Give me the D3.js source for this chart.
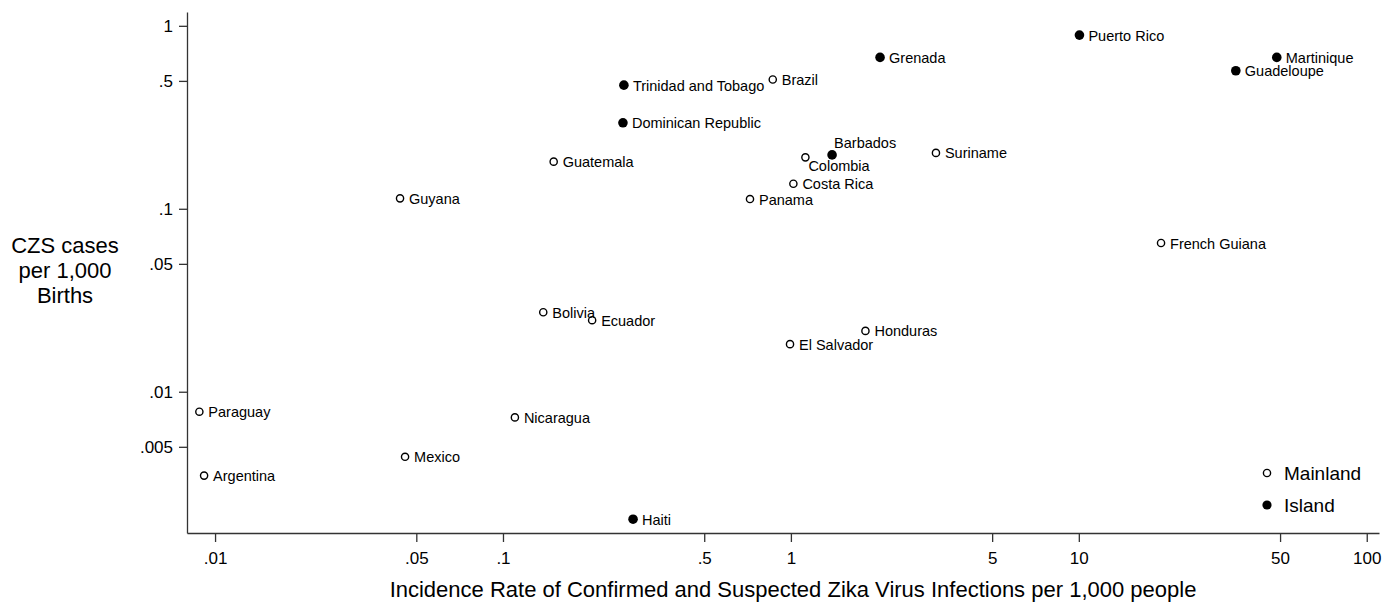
<!DOCTYPE html>
<html>
<head>
<meta charset="utf-8">
<script src="https://cdn.jsdelivr.net/npm/d3@7"></script>
<style>
  body { margin: 0; background: #fff; }
  svg text { font-family: Arial, "Liberation Sans", sans-serif; fill: #000; }
  .axis path, .axis line { stroke: #333; stroke-width: 1.3; }
  .axis text { font-size: 17px; }
  .lbl { font-size: 14.5px; }
</style>
</head>
<body>
<div id="chart"></div>
<script>
// Data
var countries = ["Puerto Rico", "Martinique", "Guadeloupe", "Grenada", "Brazil", "Trinidad and Tobago",
  "Dominican Republic", "Guatemala", "Barbados", "Colombia", "Costa Rica", "Panama", "Guyana",
  "Suriname", "French Guiana", "Bolivia", "Ecuador", "Honduras", "El Salvador", "Nicaragua",
  "Haiti", "Paraguay", "Argentina", "Mexico"];
var incidence = [10.05, 48.7, 35.1, 2.04, 0.865, 0.263, 0.261, 0.150, 1.39, 1.123, 1.02, 0.721, 0.0439,
  3.19, 19.3, 0.138, 0.204, 1.815, 0.993, 0.110, 0.283, 0.00882, 0.00916, 0.0457];
var czsRate = [0.89, 0.672, 0.568, 0.672, 0.509, 0.474, 0.295, 0.181, 0.197, 0.191, 0.137, 0.113, 0.114,
  0.202, 0.065, 0.0272, 0.0246, 0.0215, 0.0182, 0.00724, 0.00201, 0.00778, 0.00348, 0.00441];
var island = [1, 1, 1, 1, 0, 1, 1, 0, 1, 0, 0, 0, 0, 0, 0, 0, 0, 0, 0, 0, 1, 0, 0, 0];

var xTicks = [0.01, 0.05, 0.1, 0.5, 1, 5, 10, 50, 100];
var xTickLabels = [".01", ".05", ".1", ".5", "1", "5", "10", "50", "100"];
var yTicks = [1, 0.5, 0.1, 0.05, 0.01, 0.005];
var yTickLabels = ["1", ".5", ".1", ".05", ".01", ".005"];

var legendKeys = ["Mainland", "Island"];

// label placement (clock position style, as in the original)
var labelPlace = { "Barbados": "above", "Colombia": "below" };

var viewboxwidth = 1382, viewboxheight = 602;
var margin = {top: 12, bottom: 69, left: 187, right: 3};

var svg = d3.select("#chart")
    .append("svg")
    .attr("width", viewboxwidth)
    .attr("height", viewboxheight);

var x = d3.scaleLog()
    .domain([0.00799, 110.3])
    .range([margin.left, viewboxwidth - margin.right]);

var y = d3.scaleLog()
    .domain([0.00169, 1.19])
    .range([viewboxheight - margin.bottom, margin.top]);

// Axes
svg.append("g")
    .attr("class", "axis")
    .attr("transform", "translate(0," + (viewboxheight - margin.bottom) + ")")
    .call(d3.axisBottom(x)
        .tickValues(xTicks)
        .tickFormat(function(d, i){ return xTickLabels[i]; })
        .tickSize(9)
        .tickSizeOuter(0)
        .tickPadding(10));

svg.append("g")
    .attr("class", "axis")
    .attr("transform", "translate(" + margin.left + ",0)")
    .call(d3.axisLeft(y)
        .tickValues(yTicks)
        .tickFormat(function(d, i){ return yTickLabels[i]; })
        .tickSize(8)
        .tickSizeOuter(0)
        .tickPadding(6));

// Axis titles
svg.append("text")
    .attr("x", 793)
    .attr("y", 597)
    .attr("text-anchor", "middle")
    .style("font-size", "22px")
    .text("Incidence Rate of Confirmed and Suspected Zika Virus Infections per 1,000 people");

var ytitle = ["CZS cases", "per 1,000", "Births"];
svg.append("g")
    .selectAll("text")
    .data(ytitle)
    .enter()
    .append("text")
    .attr("x", 65)
    .attr("y", function(d, i){ return 253 + i * 25; })
    .attr("text-anchor", "middle")
    .style("font-size", "22px")
    .text(function(d){ return d; });

// Points
var points = countries.map(function(c, i){
    return {name: c, x: incidence[i], y: czsRate[i], island: island[i]};
});

var pts = svg.append("g");

pts.selectAll("circle")
    .data(points)
    .enter()
    .append("circle")
    .attr("cx", function(d){ return x(d.x); })
    .attr("cy", function(d){ return y(d.y); })
    .attr("r", function(d){ return d.island ? 4.8 : 3.6; })
    .style("fill", function(d){ return d.island ? "#000" : "#fff"; })
    .style("stroke", "#000")
    .style("stroke-width", function(d){ return d.island ? 0 : 1.4; });

pts.selectAll("text")
    .data(points)
    .enter()
    .append("text")
    .attr("class", "lbl")
    .attr("x", function(d){
        var p = labelPlace[d.name];
        if (p == "above") return x(d.x) + 2;
        if (p == "below") return x(d.x) + 3;
        return x(d.x) + 9;
    })
    .attr("y", function(d){
        var p = labelPlace[d.name];
        if (p == "above") return y(d.y) - 7;
        if (p == "below") return y(d.y) + 14;
        return y(d.y) + 5.5;
    })
    .text(function(d){ return d.name; });

// Legend
var legend = svg.append("g")
    .selectAll("g")
    .data(legendKeys)
    .enter()
    .append("g")
    .attr("transform", function(d, i){ return "translate(1267," + (473 + i * 32) + ")"; });

legend.append("circle")
    .attr("r", function(d, i){ return i ? 4.6 : 3.6; })
    .style("fill", function(d, i){ return i ? "#000" : "#fff"; })
    .style("stroke", "#000")
    .style("stroke-width", function(d, i){ return i ? 0 : 1.4; });

legend.append("text")
    .attr("x", 17)
    .attr("y", 7)
    .style("font-size", "19px")
    .text(function(d){ return d; });
</script>
</body>
</html>
